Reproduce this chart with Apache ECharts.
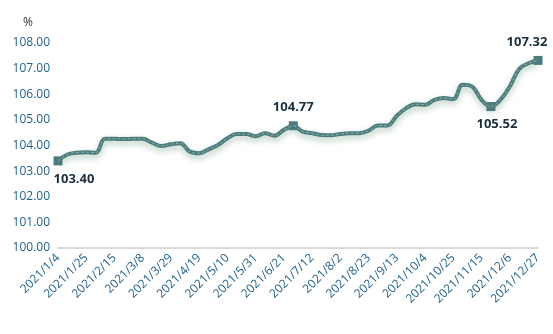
<!DOCTYPE html>
<html>
<head>
<meta charset="utf-8">
<script src="https://cdn.jsdelivr.net/npm/echarts@6/dist/echarts.min.js"></script>
<style>
  html, body { margin: 0; padding: 0; background: #fff; }
  #chart { width: 553px; height: 334px; }
</style>
</head>
<body>
<div id="chart"></div>
<script>
// Weekly dates, 2021
const dates = [
  '2021/1/4','2021/1/11','2021/1/18','2021/1/25','2021/2/1','2021/2/8','2021/2/15','2021/2/22',
  '2021/3/1','2021/3/8','2021/3/15','2021/3/22','2021/3/29','2021/4/5','2021/4/12','2021/4/19',
  '2021/4/26','2021/5/3','2021/5/10','2021/5/17','2021/5/24','2021/5/31','2021/6/7','2021/6/14',
  '2021/6/21','2021/6/28','2021/7/5','2021/7/12','2021/7/19','2021/7/26','2021/8/2','2021/8/9',
  '2021/8/16','2021/8/23','2021/8/30','2021/9/6','2021/9/13','2021/9/20','2021/9/27','2021/10/4',
  '2021/10/11','2021/10/18','2021/10/25','2021/11/1','2021/11/8','2021/11/15','2021/11/22','2021/11/29',
  '2021/12/6','2021/12/13','2021/12/20','2021/12/27'
];

// Index values (%)
const values = [
  103.40, 103.65, 103.72, 103.74, 103.72, 104.26, 104.26, 104.25,
  104.26, 104.26, 104.11, 103.98, 104.05, 104.09, 103.76, 103.70,
  103.85, 104.02, 104.28, 104.45, 104.45, 104.36, 104.48, 104.38,
  104.61, 104.77, 104.54, 104.48, 104.41, 104.40, 104.45, 104.48,
  104.48, 104.58, 104.78, 104.78, 105.16, 105.46, 105.61, 105.59,
  105.78, 105.85, 105.81, 106.37, 106.30, 105.78, 105.52, 105.78,
  106.30, 106.99, 107.21, 107.32
];

// Points that carry a square marker and a value label
const markedIdx = [0, 25, 46, 51];
const markedPos = ['bottom', 'top', 'bottom', 'top'];
const markedOffset = [[16, 0], [0, 0], [6, 0], [-11, 0]];

const yMin = 100, yMax = 108, yStep = 1;

const lineColor = '#4b7b7b';
const axisTextColor = '#1f5f86';

const mainData = values.map((v, i) => {
  const k = markedIdx.indexOf(i);
  if (k < 0) return { value: v, symbolSize: 0 };
  return {
    value: v,
    symbol: 'rect',
    symbolSize: 9,
    label: {
      show: true,
      position: markedPos[k],
      offset: markedOffset[k],
      distance: 7,
      formatter: (p) => p.value.toFixed(2),
      color: '#1a2f3d',
      fontWeight: 'bold',
      fontSize: 13,
      fontFamily: 'Open Sans'
    }
  };
});

const chart = echarts.init(document.getElementById('chart'), null, { renderer: 'canvas' });
chart.setOption({
  animation: false,
  grid: { left: 58, right: 15, top: 43, bottom: 86, containLabel: false },
  xAxis: {
    type: 'category',
    data: dates,
    boundaryGap: false,
    axisLine: { lineStyle: { color: '#d9d9d9', width: 2 } },
    axisTick: { show: false },
    axisLabel: {
      interval: 2,
      rotate: 45,
      margin: 8,
      color: axisTextColor,
      fontSize: 12,
      fontFamily: 'Open Sans'
    },
    splitLine: { show: false }
  },
  yAxis: {
    type: 'value',
    min: yMin,
    max: yMax,
    interval: yStep,
    name: '%',
    nameGap: 14,
    nameTextStyle: { color: '#333', fontSize: 12, fontFamily: 'Open Sans', padding: [0, 60, 0, 0] },
    axisLine: { show: false },
    axisTick: { show: false },
    splitLine: { show: false },
    axisLabel: {
      margin: 8,
      color: axisTextColor,
      fontSize: 12,
      fontFamily: 'Open Sans',
      formatter: (v) => v.toFixed(2)
    }
  },
  series: [
    {
      type: 'line',
      data: mainData,
      smooth: 0.4,
      symbol: 'rect',
      showSymbol: true,
      showAllSymbol: true,
      itemStyle: { color: lineColor },
      lineStyle: {
        color: lineColor,
        width: 4,
        shadowColor: 'rgba(70,130,90,0.45)',
        shadowBlur: 6,
        shadowOffsetY: 3
      },
      z: 2
    },
    {
      type: 'line',
      data: values,
      smooth: 0.4,
      symbol: 'none',
      silent: true,
      lineStyle: { color: '#8fb0b0', width: 1, type: [3, 2] },
      z: 3
    }
  ]
});
</script>
</body>
</html>
